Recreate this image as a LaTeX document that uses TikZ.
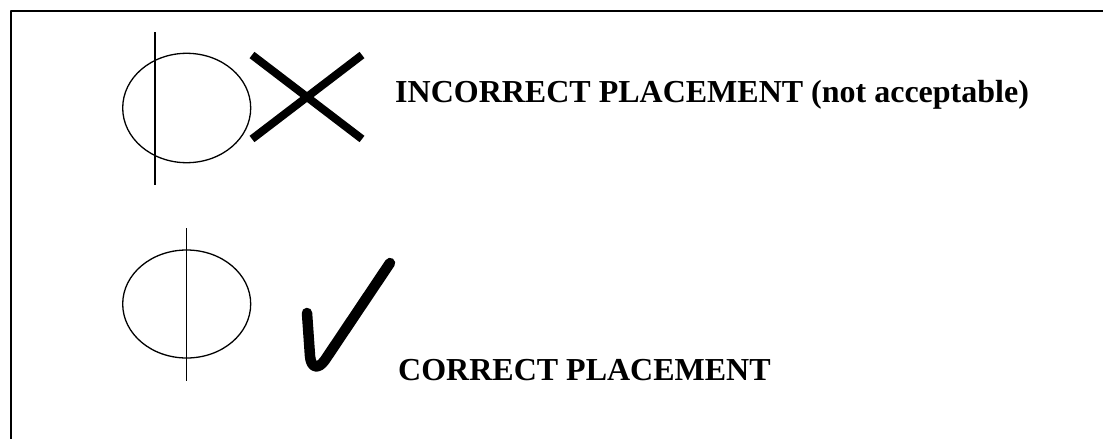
\documentclass[tikz,border=0pt]{standalone}
\usepackage{fontspec}
\setmainfont{Liberation Serif}
\usetikzlibrary{positioning}
\definecolor{markBlack}{RGB}{0, 0, 0}

\begin{document}
\begin{tikzpicture}[x=1pt, y=-1pt, line join=round,
    outline/.style={markBlack, line width=1.3pt},
    label/.style={font=\fontsize{32}{38}\selectfont\bfseries, inner sep=0pt, anchor=base west}]
        \useasboundingbox (0,0) rectangle (1103,439);
        \draw[markBlack, line width=2pt] (11,460) -- (11,11) -- (1120,11);
        % wrong: stem off the centre
        \draw[outline] (186.7,108) ellipse (64 and 54.7);
        \draw[outline] (155,32) -- (155,185);
        \draw[markBlack, line width=8pt] (252,55) -- (362,139);
        \draw[markBlack, line width=8pt] (252,139) -- (362,55);
        \node[label] (wrongText) at (395,102) {INCORRECT PLACEMENT (not acceptable)};
        % right: stem through the centre
        \draw[outline] (186.7,304) ellipse (64 and 54);
        \draw[outline] (186.7,228) -- (186.7,381);
        \draw[markBlack, line width=10.5pt, line cap=round] (307,313) -- (310,356)
            .. controls (311,368) and (318,370) .. (325,360) -- (390,263);
        \node[label] (rightText) at (398,380) {CORRECT PLACEMENT};
    \end{tikzpicture}
\end{document}
